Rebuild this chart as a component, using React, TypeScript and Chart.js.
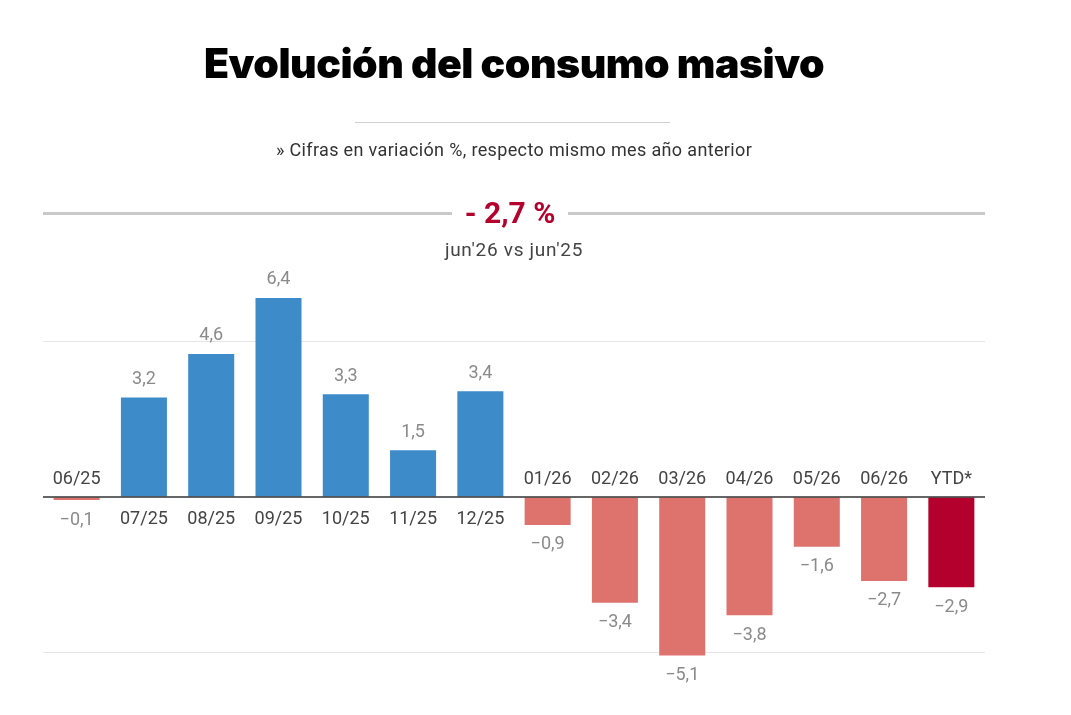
import React, { useEffect, useRef } from "react";
import { Chart, registerables } from "chart.js";

Chart.register(...registerables);

const categories = [
  "06/25", "07/25", "08/25", "09/25", "10/25", "11/25", "12/25",
  "01/26", "02/26", "03/26", "04/26", "05/26", "06/26", "YTD*",
];
const variation = [-0.1, 3.2, 4.6, 6.4, 3.3, 1.5, 3.4, -0.9, -3.4, -5.1, -3.8, -1.6, -2.7, -2.9];
const yTicks = [-5, 5];

const BLUE = "#3e8bc9";
const SALMON = "#de736e";
const CRIMSON = "#b3002d";
const FONT = "Roboto, 'Noto Sans', sans-serif";

const fmt = (v: number) => (v < 0 ? "\u2212" : "") + Math.abs(v).toFixed(1).replace(".", ",");

const barLabels = {
  id: "barLabels",
  afterDatasetsDraw(chart: any) {
    const { ctx, chartArea, scales } = chart;
    const zeroY = scales.y.getPixelForValue(0);
    ctx.save();
    // zero line
    ctx.strokeStyle = "#333";
    ctx.lineWidth = 1.5;
    ctx.beginPath();
    ctx.moveTo(chartArea.left, zeroY);
    ctx.lineTo(chartArea.right, zeroY);
    ctx.stroke();

    const meta = chart.getDatasetMeta(0);
    ctx.textAlign = "center";
    ctx.textBaseline = "middle";
    ctx.font = `400 18px ${FONT}`;
    meta.data.forEach((bar: any, i: number) => {
      const v = variation[i];
      const x = bar.x;
      if (v >= 0) {
        ctx.fillStyle = "#444";
        ctx.fillText(categories[i], x, zeroY + 22);
        ctx.fillStyle = "#8a8a8a";
        ctx.fillText(fmt(v), x, bar.y - 18);
      } else {
        ctx.fillStyle = "#444";
        ctx.fillText(categories[i], x, zeroY - 18);
        ctx.fillStyle = "#8a8a8a";
        ctx.fillText(fmt(v), x, bar.y + 20);
      }
    });
    ctx.restore();
  },
};

function BarChart() {
  const ref = useRef<HTMLCanvasElement>(null);
  useEffect(() => {
    if (!ref.current) return;
    const colors = variation.map((v, i) =>
      categories[i] === "YTD*" ? CRIMSON : v >= 0 ? BLUE : SALMON
    );
    const chart = new Chart(ref.current, {
      type: "bar",
      data: {
        labels: categories,
        datasets: [
          {
            data: variation,
            backgroundColor: colors,
            borderWidth: 0,
            barPercentage: 0.684,
            categoryPercentage: 1,
          },
        ],
      },
      options: {
        animation: false,
        responsive: false,
        maintainAspectRatio: false,
        layout: { padding: { left: 43, right: 86, top: 279.3, bottom: 31.4 } },
        plugins: { legend: { display: false }, tooltip: { enabled: false } },
        scales: {
          x: { display: false },
          y: {
            display: true,
            min: -6,
            max: 7,
            border: { display: false },
            ticks: { display: false, stepSize: 5 },
            grid: {
              drawTicks: false,
              lineWidth: 1,
              color: (c: any) =>
                yTicks.includes(c.tick?.value) ? "#e6e6e6" : "rgba(0,0,0,0)",
            },
          },
        },
      },
      plugins: [barLabels],
    });
    return () => chart.destroy();
  }, []);
  return (
    <canvas
      ref={ref}
      width={1071}
      height={715}
      style={{ position: "absolute", left: 0, top: 0, width: 1071, height: 715 }}
    />
  );
}

export default function App() {
  const center: React.CSSProperties = {
    position: "absolute",
    left: -21.5,
    width: 1071,
    textAlign: "center",
    fontFamily: FONT,
    whiteSpace: "nowrap",
  };
  return (
    <div style={{ position: "absolute", left: 0, top: 0, width: 1071, height: 715, background: "#fff", overflow: "hidden" }}>
      <BarChart />
      <div style={{ ...center, top: 38, fontSize: 41, lineHeight: "50px", fontWeight: 900, color: "#000", letterSpacing: -0.5, fontFamily: "Inter, Roboto, sans-serif" }}>
        Evolución del consumo masivo
      </div>
      <div style={{ position: "absolute", left: 355, top: 122, width: 315, height: 1, background: "#d0d0d0" }} />
      <div style={{ ...center, top: 139, fontSize: 18, lineHeight: "22px", color: "#333", letterSpacing: 0.35 }}>
        » Cifras en variación %, respecto mismo mes año anterior
      </div>
      <div style={{ position: "absolute", left: 43, top: 212, width: 409, height: 3, background: "#c9c9c9" }} />
      <div style={{ position: "absolute", left: 568, top: 212, width: 417, height: 3, background: "#c9c9c9" }} />
      <div style={{ ...center, left: -25.5, top: 195, fontSize: 30, lineHeight: "36px", fontWeight: 700, color: CRIMSON }}>
        - 2,7 %
      </div>
      <div style={{ ...center, top: 239, fontSize: 19, lineHeight: "22px", color: "#444", letterSpacing: 0.7 }}>
        jun'26 vs jun'25
      </div>
    </div>
  );
}
